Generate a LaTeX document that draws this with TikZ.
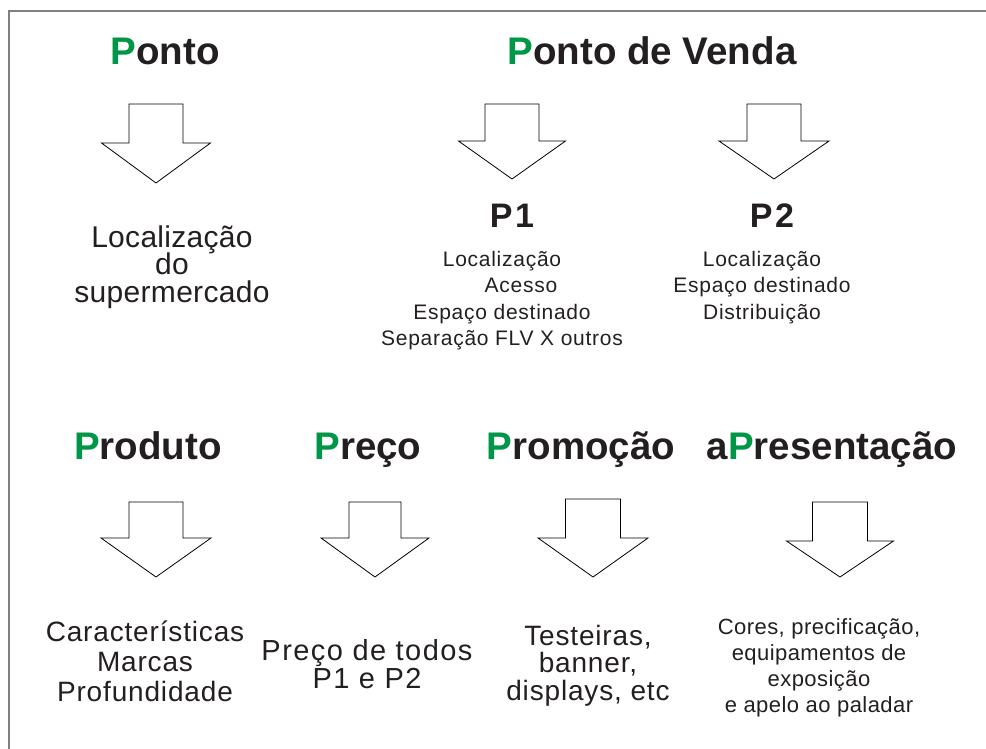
\documentclass[tikz,border=0pt]{standalone}
\usepackage{fontspec}
\setmainfont{Liberation Sans}
\definecolor{pgreen}{RGB}{0,150,72}
\definecolor{ink}{RGB}{35,31,32}
\definecolor{framegray}{RGB}{128,128,128}
\newcommand\blockarr[6]{%
  \draw[arrowshape] ({#1-#5},#2) -- ({#1+#5},#2) -- ({#1+#5},#3) -- ({#1+#6},#3)
    -- (#1,#4) -- ({#1-#6},#3) -- ({#1-#5},#3) -- cycle;}
\newcommand\gP{\textcolor{pgreen}{P}}
\newcommand\txtfont[3]{\fontsize{#1}{#2}\selectfont\addfontfeature{LetterSpace=#3}\lineskiplimit=-100pt\relax}
\begin{document}
\begin{tikzpicture}[x=1pt,y=-1pt,
  every node/.style={inner sep=0pt,outer sep=0pt,text=ink},
  title/.style={anchor=base,font=\fontsize{38.5}{40}\selectfont\bfseries},
  ptitle/.style={anchor=base,font=\fontsize{34}{36}\selectfont\bfseries\addfontfeature{LetterSpace=8}},
  txt/.style={anchor=base,align=center},
  arrowshape/.style={draw=black,line width=0.8pt,fill=white,line join=miter}]
\useasboundingbox (0,0) rectangle (986,749);
% frame
\draw[framegray,line width=1.5pt] (9,749) -- (9,11) -- (986,11);
% titles
\node[title] (ponto) at (165,65) {\gP onto};
\node[title] (pdv) at (652,65) {\gP onto de Venda};
\node[title] (produto) at (148,459) {\gP roduto};
\node[title] (preco) at (368,459) {\gP reço};
\node[title] (promo) at (581,459) {\gP romoção};
\node[title] (apres) at (832,459) {a\gP resentação};
% block arrows
\blockarr{156}{104}{143}{183}{27}{54.5}
\blockarr{512}{104}{141}{179}{27}{53.5}
\blockarr{774}{104}{141}{179}{27}{55}
\blockarr{156}{502}{538}{577}{27}{55}
\blockarr{375}{502}{538}{577}{26}{54}
\blockarr{593}{499}{538}{577}{27.5}{55}
\blockarr{840}{502}{541}{577}{27.5}{53.5}
% P1 / P2
\node[ptitle] (p1) at (512,228) {P1};
\node[ptitle] (p2) at (772,228) {P2};
% multi-line texts: anchor=base is the baseline of the LAST line
\node[txt,font=\txtfont{21}{26.5}{3.5}] (p1list) at (502,345.5) {Localização\\\hspace*{38pt}Acesso\\Espaço destinado\\Separação FLV X outros};
\node[txt,font=\txtfont{21}{26.5}{3.5}] (p2list) at (762,319) {Localização\\Espaço destinado\\Distribuição};
\node[txt,font=\txtfont{30}{27.5}{1}] (loc) at (172,302) {Localização\\do\\supermercado};
\node[txt,font=\txtfont{28}{30}{3}] (carac) at (145,701) {Características\\Marcas\\Profundidade};
\node[txt,font=\txtfont{29}{28}{5}] (precotxt) at (367,688) {Preço de todos\\P1 e P2};
\node[txt,font=\txtfont{28}{27.5}{3}] (test) at (588,700) {Testeiras,\\banner,\\displays, etc};
\node[txt,font=\txtfont{22}{25.7}{2}] (cores) at (819,712) {Cores, precificação,\\equipamentos de\\exposição\\e apelo ao paladar};
\end{tikzpicture}
\end{document}
